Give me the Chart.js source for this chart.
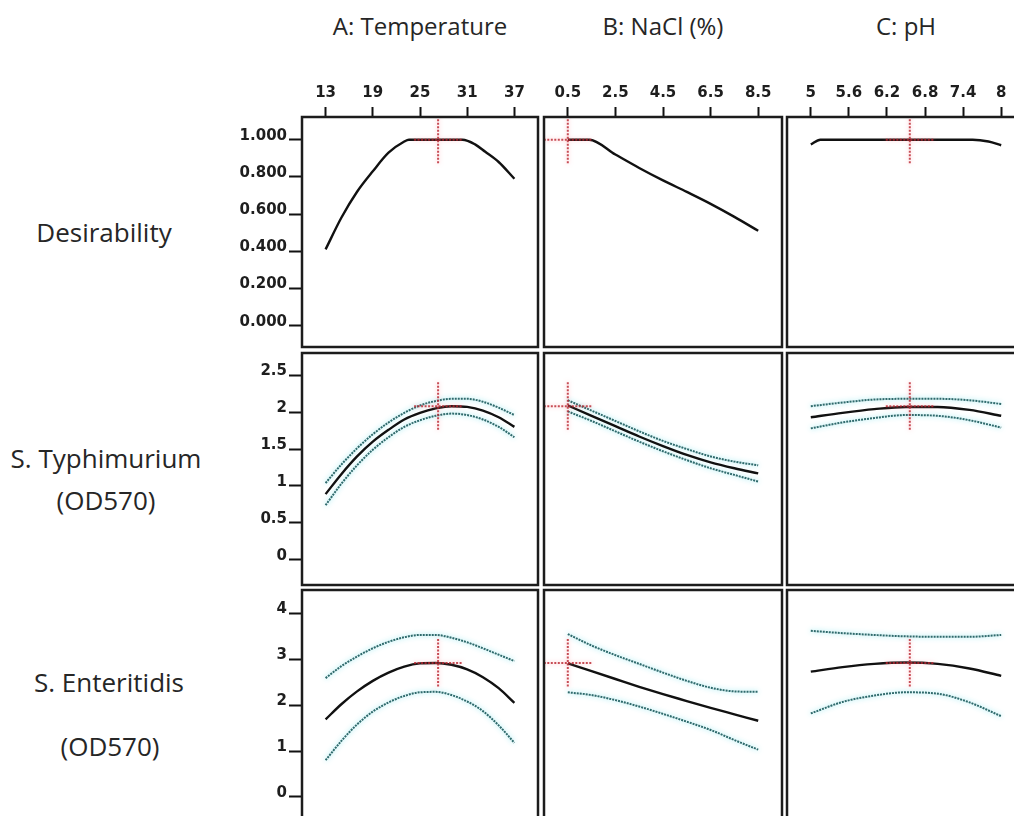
<!DOCTYPE html>
<html>
<head>
<meta charset="utf-8">
<script src="https://cdn.jsdelivr.net/npm/chart.js@4.4.1/dist/chart.umd.min.js"></script>
<style>
  html, body { margin: 0; padding: 0; width: 1014px; height: 816px; overflow: hidden; background: #fff; }
  .lbl { position: absolute; transform: translate(-50%, -50%); font-family: 'Open Sans', sans-serif; color: #262626; white-space: nowrap; }
  .col { font-size: 24px; font-weight: 500; }
  .row { font-size: 26px; }
  canvas { position: absolute; }
</style>
</head>
<body>
<div class="lbl col" style="left:420px; top:25px">A: Temperature</div>
<div class="lbl col" style="left:663px; top:25px">B: NaCl (%)</div>
<div class="lbl col" style="left:906px; top:25px">C: pH</div>
<div class="lbl row" style="left:104px; top:232px">Desirability</div>
<div class="lbl row" style="left:106px; top:458px">S. Typhimurium</div>
<div class="lbl row" style="left:106px; top:500px">(OD570)</div>
<div class="lbl row" style="left:109px; top:682px">S. Enteritidis</div>
<div class="lbl row" style="left:110px; top:746px">(OD570)</div>

<script>
// factor levels
const tempX = [13, 15, 17, 19, 21, 23, 25, 27, 29, 31, 33, 35, 37];
const naclX = [0.5, 1.5, 2.5, 3.5, 4.5, 5.5, 6.5, 7.5, 8.5];
const phX = [5, 5.5, 6, 6.5, 7, 7.5, 8];

// desirability
const desTempX = [13, 15, 17, 19, 21, 23, 23.6, 30.4, 32, 33.3, 35, 37];
const desTemp = [0.41, 0.58, 0.72, 0.83, 0.93, 0.99, 1.0, 1.0, 0.975, 0.935, 0.88, 0.79];
const desNaclX = [0.5, 1.4, 2.5, 3.5, 4.5, 5.5, 6.5, 7.5, 8.5];
const desNacl = [1.0, 1.0, 0.92, 0.848, 0.781, 0.719, 0.655, 0.585, 0.51];
const desPhX = [5, 5.15, 7.55, 7.8, 8];
const desPh = [0.975, 1.0, 1.0, 0.99, 0.97];

// S. Typhimurium (OD570): prediction with lower / upper bands
const typTemp = [0.89, 1.16, 1.40, 1.60, 1.76, 1.90, 1.99, 2.05, 2.08, 2.07, 2.02, 1.93, 1.80];
const typTempHi = [1.04, 1.29, 1.51, 1.70, 1.86, 1.99, 2.09, 2.15, 2.18, 2.18, 2.14, 2.06, 1.96];
const typTempLo = [0.74, 1.03, 1.28, 1.49, 1.66, 1.80, 1.89, 1.95, 1.98, 1.96, 1.90, 1.80, 1.66];
const typNacl = [2.09, 1.95, 1.81, 1.67, 1.54, 1.42, 1.32, 1.24, 1.17];
const typNaclHi = [2.16, 2.02, 1.88, 1.74, 1.61, 1.50, 1.40, 1.33, 1.28];
const typNaclLo = [2.01, 1.88, 1.74, 1.60, 1.47, 1.35, 1.24, 1.15, 1.06];
const typPh = [1.93, 1.99, 2.04, 2.07, 2.07, 2.03, 1.95];
const typPhHi = [2.08, 2.13, 2.17, 2.18, 2.18, 2.16, 2.11];
const typPhLo = [1.78, 1.86, 1.92, 1.96, 1.95, 1.89, 1.79];

// S. Enteritidis (OD570)
const entTemp = [1.69, 2.02, 2.30, 2.53, 2.71, 2.84, 2.91, 2.92, 2.88, 2.78, 2.61, 2.37, 2.05];
const entTempHi = [2.59, 2.85, 3.06, 3.24, 3.38, 3.48, 3.53, 3.53, 3.47, 3.37, 3.24, 3.10, 2.96];
const entTempLo = [0.80, 1.22, 1.58, 1.86, 2.06, 2.20, 2.28, 2.29, 2.22, 2.08, 1.87, 1.56, 1.18];
const entNacl = [2.91, 2.74, 2.57, 2.40, 2.24, 2.09, 1.94, 1.80, 1.66];
const entNaclHi = [3.55, 3.30, 3.09, 2.90, 2.71, 2.53, 2.38, 2.30, 2.29];
const entNaclLo = [2.28, 2.22, 2.11, 1.97, 1.81, 1.64, 1.46, 1.24, 1.03];
const entPh = [2.73, 2.83, 2.90, 2.93, 2.90, 2.80, 2.64];
const entPhHi = [3.62, 3.57, 3.53, 3.50, 3.49, 3.49, 3.53];
const entPhLo = [1.82, 2.07, 2.21, 2.28, 2.25, 2.06, 1.76];

// optimum point (crosshair)
const optX = [27.3, 0.5, 6.56];
const optY = [1.0, 2.08, 2.92];

// tick labels
const xTicks = [[13, 19, 25, 31, 37], [0.5, 2.5, 4.5, 6.5, 8.5], [5, 5.6, 6.2, 6.8, 7.4, 8]];
const xTickLabels = [['13', '19', '25', '31', '37'], ['0.5', '2.5', '4.5', '6.5', '8.5'], ['5', '5.6', '6.2', '6.8', '7.4', '8']];
const yTicks = [[0, 0.2, 0.4, 0.6, 0.8, 1.0], [0, 0.5, 1, 1.5, 2, 2.5], [0, 1, 2, 3, 4]];
const yTickLabels = [['0.000', '0.200', '0.400', '0.600', '0.800', '1.000'], ['0', '0.5', '1', '1.5', '2', '2.5'], ['0', '1', '2', '3', '4']];

const xRange = [[10, 40], [-0.5, 9.5], [4.625, 8.375]];
const yRange = [[-0.115, 1.122], [-0.34, 2.80], [-0.59, 4.51]];

// panel layout
const colLeft = [302, 544, 787], colWidth = [236, 238, 238];
const rowTop = [117, 353, 590], rowHeight = [230, 232, 234];
const PAD = 14;

const pts = (xs, ys) => xs.map((x, i) => ({ x: x, y: ys[i] }));

const panels = [
  [{ mean: pts(desTempX, desTemp) }, { mean: pts(desNaclX, desNacl) }, { mean: pts(desPhX, desPh) }],
  [{ mean: pts(tempX, typTemp), hi: pts(tempX, typTempHi), lo: pts(tempX, typTempLo) },
   { mean: pts(naclX, typNacl), hi: pts(naclX, typNaclHi), lo: pts(naclX, typNaclLo) },
   { mean: pts(phX, typPh), hi: pts(phX, typPhHi), lo: pts(phX, typPhLo) }],
  [{ mean: pts(tempX, entTemp), hi: pts(tempX, entTempHi), lo: pts(tempX, entTempLo) },
   { mean: pts(naclX, entNacl), hi: pts(naclX, entNaclHi), lo: pts(naclX, entNaclLo) },
   { mean: pts(phX, entPh), hi: pts(phX, entPhHi), lo: pts(phX, entPhLo) }]
];

const tickFont = { family: 'DejaVu Sans', size: 15, weight: 'bold' };

// glow under the interval lines
const glowPlugin = {
  id: 'glow',
  beforeDatasetDraw(chart, args) {
    const ds = chart.data.datasets[args.index];
    if (!ds.glow) return;
    chart.ctx.save();
    chart.ctx.shadowColor = ds.glow;
    chart.ctx.shadowBlur = 5;
  },
  afterDatasetDraw(chart, args) {
    if (chart.data.datasets[args.index].glow) chart.ctx.restore();
  }
};

// frame + optimum crosshair
const framePlugin = {
  id: 'frame',
  afterDatasetsDraw(chart, args, opts) {
    const { ctx, chartArea: a, scales } = chart;
    const cx = scales.x.getPixelForValue(optX[opts.col]);
    const cy = scales.y.getPixelForValue(optY[opts.row]);
    ctx.save();
    ctx.beginPath();
    ctx.rect(a.left, a.top, a.width, a.height);
    ctx.clip();
    ctx.strokeStyle = 'rgba(185,35,45,0.8)';
    ctx.shadowColor = 'rgba(255,130,140,0.7)';
    ctx.shadowBlur = 4;
    ctx.lineWidth = 2;
    ctx.setLineDash([2, 1.5]);
    ctx.beginPath();
    ctx.moveTo(cx, cy - 24); ctx.lineTo(cx, cy + 24);
    ctx.moveTo(cx - 24, cy); ctx.lineTo(cx + 24, cy);
    ctx.stroke();
    ctx.restore();

    ctx.save();
    ctx.strokeStyle = '#1c1c1c';
    ctx.lineWidth = 2.5;
    ctx.strokeRect(a.left, a.top, a.width, a.height);
    ctx.restore();
  }
};

function makePanel(r, c) {
  const aw = c === 0 ? 75 : 0;
  const ah = r === 0 ? 50 : 0;
  const cv = document.createElement('canvas');
  const w = colWidth[c] + aw + 2 * PAD, h = rowHeight[r] + ah + 2 * PAD;
  cv.width = w; cv.height = h;
  cv.style.left = (colLeft[c] - aw - PAD) + 'px';
  cv.style.top = (rowTop[r] - ah - PAD) + 'px';
  cv.style.width = w + 'px'; cv.style.height = h + 'px';
  document.body.appendChild(cv);

  const p = panels[r][c];
  const datasets = [{ data: p.mean, borderColor: '#111', borderWidth: 2.4 }];
  if (p.hi) {
    const band = { borderColor: '#2f6a6c', borderWidth: 2, borderDash: [2, 1], glow: 'rgba(110,225,235,0.9)' };
    datasets.push(Object.assign({ data: p.hi }, band));
    datasets.push(Object.assign({ data: p.lo }, band));
  }
  datasets.forEach(d => { d.pointRadius = 0; d.fill = false; d.cubicInterpolationMode = 'monotone'; });

  new Chart(cv, {
    type: 'line',
    data: { datasets: datasets },
    options: {
      responsive: false,
      animation: false,
      events: [],
      layout: { padding: PAD },
      plugins: { legend: { display: false }, tooltip: { enabled: false }, frame: { row: r, col: c } },
      scales: {
        x: {
          type: 'linear', position: 'top', display: r === 0,
          min: xRange[c][0], max: xRange[c][1],
          afterBuildTicks: s => { s.ticks = xTicks[c].map(v => ({ value: v })); },
          afterFit: s => { s.height = ah; },
          grid: { drawOnChartArea: false, tickLength: 10, tickWidth: 2, tickColor: '#111' },
          border: { display: false },
          ticks: { font: tickFont, color: '#1e1e1e', padding: 5, autoSkip: false, maxRotation: 0,
                   callback: (v, i) => xTickLabels[c][i] }
        },
        y: {
          type: 'linear', position: 'left', display: c === 0,
          min: yRange[r][0], max: yRange[r][1],
          afterBuildTicks: s => { s.ticks = yTicks[r].map(v => ({ value: v })); },
          afterFit: s => { s.width = aw; },
          grid: { drawOnChartArea: false, tickLength: 13, tickWidth: 2, tickColor: '#111' },
          border: { display: false },
          ticks: { font: tickFont, color: '#1e1e1e', padding: 2, labelOffset: -4,
                   callback: (v, i) => yTickLabels[r][i] }
        }
      }
    },
    plugins: [glowPlugin, framePlugin]
  });
}

for (let r = 0; r < 3; r++) for (let c = 0; c < 3; c++) makePanel(r, c);
</script>
</body>
</html>
